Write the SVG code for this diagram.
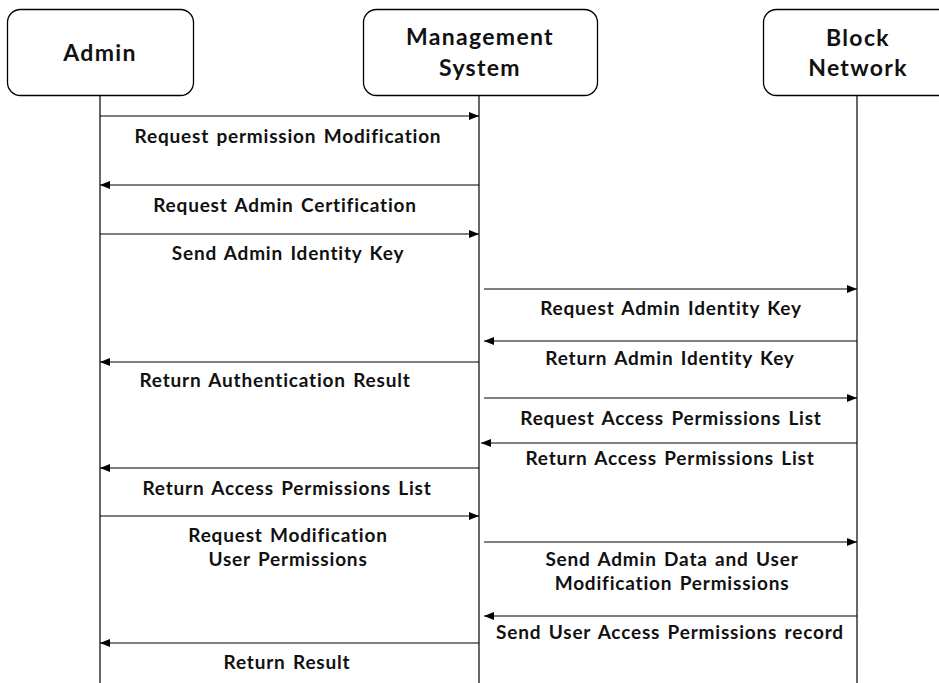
<svg xmlns="http://www.w3.org/2000/svg" width="939" height="683" viewBox="0 0 939 683">
  <style>
    .box { fill: #ffffff; stroke: #000000; stroke-width: 1.3; }
    .life { stroke: #000000; stroke-width: 1.2; fill: none; }
    .msg { stroke: #000000; stroke-width: 1.2; fill: none; marker-end: url(#head); }
    .hdr { font-family: Lato, "Noto Sans", sans-serif; font-weight: bold; font-size: 23px; letter-spacing: 1.3px; font-variant-ligatures: none; text-anchor: middle; fill: #111; }
    .lbl { font-family: Lato, "Noto Sans", sans-serif; font-weight: bold; font-size: 19px; letter-spacing: 0.8px; word-spacing: 2px; font-variant-ligatures: none; text-anchor: middle; fill: #111; }
  </style>
  <defs>
    <marker id="head" viewBox="0 0 10 8" refX="10" refY="4" markerWidth="10" markerHeight="8" markerUnits="userSpaceOnUse" orient="auto">
      <path d="M0,0 L10,4 L0,8 Z" fill="#000"/>
    </marker>
  </defs>
  <rect width="939" height="683" fill="#ffffff"/>

  <!-- participants -->
  <g id="admin">
    <rect class="box" x="7.5" y="9.5" width="186" height="86" rx="13"/>
    <line class="life" x1="100" y1="96" x2="100" y2="683"/>
    <text class="hdr" x="100" y="61">Admin</text>
  </g>
  <g id="management-system">
    <rect class="box" x="363.5" y="9.5" width="234" height="86" rx="13"/>
    <line class="life" x1="479" y1="96" x2="479" y2="683"/>
    <text class="hdr" x="480" y="45">Management<tspan x="480" dy="31">System</tspan></text>
  </g>
  <g id="block-network">
    <rect class="box" x="763.5" y="9.5" width="188" height="86" rx="13"/>
    <line class="life" x1="857" y1="96" x2="857" y2="683"/>
    <text class="hdr" x="858" y="46">Block<tspan x="858" dy="30">Network</tspan></text>
  </g>

  <!-- messages -->
  <g id="connectors">
    <line class="msg" x1="100" y1="116" x2="479" y2="116"/>
    <line class="msg" x1="479" y1="185" x2="100" y2="185"/>
    <line class="msg" x1="100" y1="234" x2="479" y2="234"/>
    <line class="msg" x1="484" y1="289" x2="857" y2="289"/>
    <line class="msg" x1="857" y1="341" x2="484" y2="341"/>
    <line class="msg" x1="479" y1="362" x2="100" y2="362"/>
    <line class="msg" x1="484" y1="398" x2="857" y2="398"/>
    <line class="msg" x1="857" y1="443" x2="481" y2="443"/>
    <line class="msg" x1="479" y1="468" x2="100" y2="468"/>
    <line class="msg" x1="100" y1="516" x2="479" y2="516"/>
    <line class="msg" x1="484" y1="542" x2="857" y2="542"/>
    <line class="msg" x1="857" y1="616" x2="484" y2="616"/>
    <line class="msg" x1="479" y1="643" x2="100" y2="643"/>
  </g>

  <!-- message labels -->
  <g id="labels">
    <text class="lbl" x="288" y="143">Request permission Modification</text>
    <text class="lbl" x="285" y="212">Request Admin Certification</text>
    <text class="lbl" x="288" y="260">Send Admin Identity Key</text>
    <text class="lbl" x="671" y="315">Request Admin Identity Key</text>
    <text class="lbl" x="670" y="365">Return Admin Identity Key</text>
    <text class="lbl" x="275" y="387">Return Authentication Result</text>
    <text class="lbl" x="671" y="425">Request Access Permissions List</text>
    <text class="lbl" x="670" y="465">Return Access Permissions List</text>
    <text class="lbl" x="287" y="495">Return Access Permissions List</text>
    <text class="lbl" x="288" y="542">Request Modification<tspan x="288" dy="24">User Permissions</tspan></text>
    <text class="lbl" x="672" y="566">Send Admin Data and User<tspan x="672" dy="24">Modification Permissions</tspan></text>
    <text class="lbl" x="670" y="639">Send User Access Permissions record</text>
    <text class="lbl" x="287" y="669">Return Result</text>
  </g>
</svg>
